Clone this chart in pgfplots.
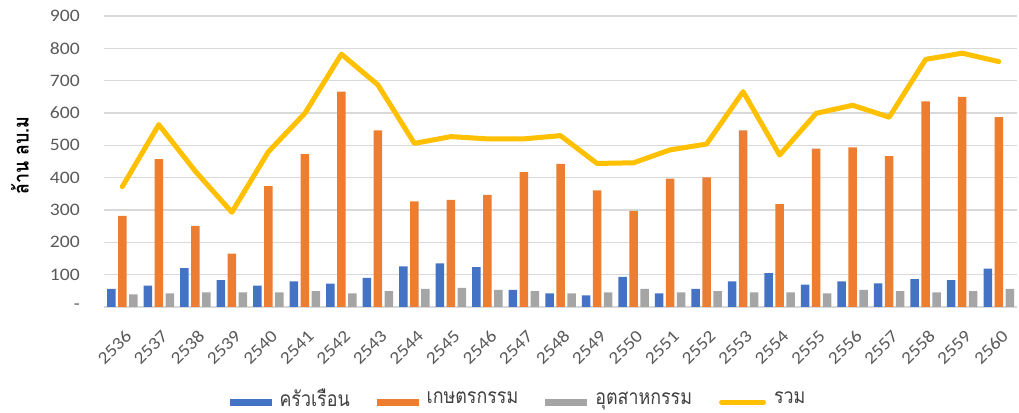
\documentclass[border=0pt]{standalone}
\usepackage{fontspec}
\setmainfont{Carlito}[FakeStretch=1.12]
\newfontfamily\thai[Script=Thai, FakeStretch=0.85]{Loma}
\usepackage{pgfplots}
\pgfplotsset{compat=1.18}
\usepackage{pgfplotstable}

\definecolor{hhblue}{HTML}{4472C4}
\definecolor{agorange}{HTML}{ED7D31}
\definecolor{indgray}{HTML}{A5A5A5}
\definecolor{totyellow}{HTML}{FFC000}
\definecolor{gridgray}{HTML}{D9D9D9}
\definecolor{txtgray}{HTML}{595959}

% water use, million m3 (household, agriculture, industry, total)
\pgfplotstableread{
x year hh agri ind total
0  2536 56  282 39 372
1  2537 66  457 42 564
2  2538 120 251 45 420
3  2539 83  165 45 293
4  2540 66  374 45 480
5  2541 79  473 49 599
6  2542 72  666 42 782
7  2543 90  546 49 687
8  2544 126 327 56 506
9  2545 135 331 59 527
10 2546 123 347 53 520
11 2547 53  417 49 520
12 2548 42  443 42 530
13 2549 36  361 45 444
14 2550 93  297 56 446
15 2551 42  397 45 486
16 2552 56  401 49 504
17 2553 79  546 45 666
18 2554 105 318 45 470
19 2555 69  490 42 599
20 2556 79  494 53 624
21 2557 73  467 49 587
22 2558 86  636 45 766
23 2559 83  650 49 785
24 2560 119 587 56 759
}\water

\begin{document}
\begin{tikzpicture}[x=1pt,y=1pt]
\useasboundingbox (0,0) rectangle (1019,412);
\begin{axis}[
    at={(104pt,105pt)}, anchor=south west,
    scale only axis, width=913pt, height=291pt,
    xmin=-0.5, xmax=24.5, ymin=0, ymax=900,
    xtick={0,...,24},
    xticklabels from table={\water}{year},
    ytick={0,100,...,900},
    yticklabels={-\hspace{9pt},100,200,300,400,500,600,700,800,900},
    axis line style={draw=none},
    major tick length=0pt,
    ymajorgrids,
    grid style={draw=gridgray, line width=1.5pt},
    tick label style={font=\fontsize{17.5}{20}\selectfont, text=txtgray, inner sep=0pt},
    yticklabel style={anchor=east, xshift=-24pt},
    xticklabel style={xshift=2pt, yshift=-22pt, rotate=45, anchor=north east},
    ylabel={\bfseries\thai ล้าน ลบ.ม},
    every axis y label/.style={at={([xshift=-84pt]axis description cs:0,0.52)}, anchor=center, rotate=90, font=\fontsize{21}{24}\selectfont},
    legend columns=4,
    legend style={at={(0.454,-0.313)}, anchor=center, draw=none, fill=none,
        font=\thai\fontsize{21}{24}\selectfont, text=black!75,
        nodes={text depth=0pt},
        /tikz/every even column/.append style={column sep=25pt},
        /tikz/every odd column/.append style={column sep=6pt},
        inner sep=0pt},
]
\addplot[ybar, bar width=8.5pt, bar shift=-11pt, fill=hhblue, draw=none,
    legend image code/.code={\fill[hhblue] (0pt,-7.5pt) rectangle (42pt,-0.5pt);}]
    table[x=x, y=hh]{\water};
\addlegendentry{ครัวเรือน}
\addplot[ybar, bar width=8.5pt, bar shift=0pt, fill=agorange, draw=none,
    legend image code/.code={\fill[agorange] (0pt,-7.5pt) rectangle (42pt,-0.5pt);}]
    table[x=x, y=agri]{\water};
\addlegendentry{เกษตรกรรม}
\addplot[ybar, bar width=8.5pt, bar shift=11pt, fill=indgray, draw=none,
    legend image code/.code={\fill[indgray] (0pt,-7.5pt) rectangle (42pt,-0.5pt);}]
    table[x=x, y=ind]{\water};
\addlegendentry{อุตสาหกรรม}
\addplot[totyellow, line width=5pt, line join=round, line cap=round, mark=none,
    legend image code/.code={\draw[totyellow, line width=5pt, line cap=round] (2pt,-4pt)--(44pt,-4pt);}]
    table[x=x, y=total]{\water};
\addlegendentry{รวม}
\end{axis}
\end{tikzpicture}
\end{document}
